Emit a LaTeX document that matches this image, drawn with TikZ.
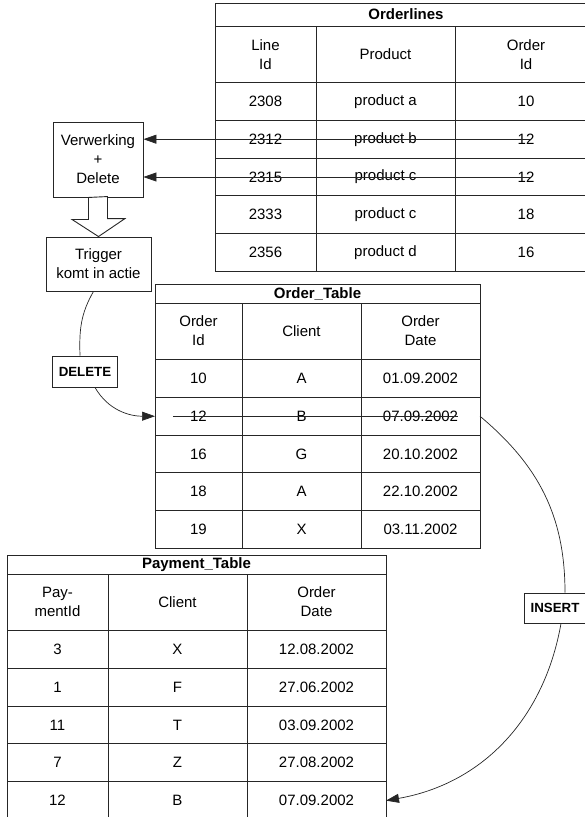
\documentclass[tikz,border=0pt]{standalone}
\usepackage{fontspec}
\setmainfont{Liberation Sans}
\usetikzlibrary{arrows.meta, positioning, calc}

\begin{document}
\begin{tikzpicture}[x=1pt, y=-1pt,
  font=\fontsize{15}{19}\selectfont,
  tabline/.style={line width=0.9pt, draw=black!85},
  cell/.style={inner sep=0pt, align=center},
  tabtitle/.style={inner sep=0pt, font=\fontsize{15}{19}\selectfont\bfseries},
  procbox/.style={draw=black!85, line width=0.9pt, align=center},
  tag/.style={draw=black!85, line width=0.9pt, fill=white, inner xsep=6pt, minimum height=31pt, font=\fontsize{13.3}{16}\selectfont\bfseries},
  connline/.style={line width=0.7pt, draw=black!85},
  flow/.style={connline, -{Triangle[length=13pt,width=9pt]}}
]

\useasboundingbox (0,0) rectangle (584,817);

\def\rowh{37.8}
\def\headh{56.5}

% table grids
\foreach \nm/\xl/\yt/\xa/\xb/\xr/\yh in {ol/215/3/316/455/597/26, ot/155/284/242/361/480/303, pt/7/555/108/247/386/574}{
  \pgfmathsetmacro\yb{\yh+\headh}
  \pgfmathsetmacro\ye{\yb+5*\rowh}
  \draw[tabline] (\xl,\yt) rectangle (\xr,\ye);
  \draw[tabline] (\xl,\yh) -- (\xr,\yh);
  \foreach \k in {0,...,4} \draw[tabline] (\xl,\yb+\k*\rowh) -- (\xr,\yb+\k*\rowh);
  \draw[tabline] (\xa,\yh) -- (\xa,\ye) (\xb,\yh) -- (\xb,\ye);
  \coordinate (\nm-nw) at (\xl,\yt);
  \coordinate (\nm-se) at (\xr,\ye);
}

% Orderlines
\node[tabtitle] (ol-title) at (406,14.5) {Orderlines};
\node[cell] (ol-h1) at (265.5,54.5) {Line\\Id};
\node[cell] (ol-h2) at (385.5,54.5) {Product};
\node[cell] (ol-h3) at (526,54.5) {Order\\Id};
\foreach \va/\vb/\vc [count=\i] in {2308/product a/10, 2312/product b/12, 2315/product c/12, 2333/product c/18, 2356/product d/16}{
  \node[cell] (ol-\i-1) at (265.5,{82.5+(\i-0.5)*\rowh}) {\va};
  \node[cell] (ol-\i-2) at (385.5,{82.5+(\i-0.5)*\rowh}) {\vb};
  \node[cell] (ol-\i-3) at (526,{82.5+(\i-0.5)*\rowh}) {\vc};
}

% Order_Table
\node[tabtitle] (ot-title) at (317.5,293.5) {Order\_Table};
\node[cell] (ot-h1) at (198.5,331) {Order\\Id};
\node[cell] (ot-h2) at (301.5,331) {Client};
\node[cell] (ot-h3) at (420.5,331) {Order\\Date};
\foreach \va/\vb/\vc [count=\i] in {10/A/01.09.2002, 12/B/07.09.2002, 16/G/20.10.2002, 18/A/22.10.2002, 19/X/03.11.2002}{
  \node[cell] (ot-\i-1) at (198.5,{359.5+(\i-0.5)*\rowh}) {\va};
  \node[cell] (ot-\i-2) at (301.5,{359.5+(\i-0.5)*\rowh}) {\vb};
  \node[cell] (ot-\i-3) at (420.5,{359.5+(\i-0.5)*\rowh}) {\vc};
}

% Payment_Table
\node[tabtitle] (pt-title) at (196.5,564.5) {Payment\_Table};
\node[cell] (pt-h1) at (57.5,602) {Pay-\\mentId};
\node[cell] (pt-h2) at (177.5,602) {Client};
\node[cell] (pt-h3) at (316.5,602) {Order\\Date};
\foreach \va/\vb/\vc [count=\i] in {3/X/12.08.2002, 1/F/27.06.2002, 11/T/03.09.2002, 7/Z/27.08.2002, 12/B/07.09.2002}{
  \node[cell] (pt-\i-1) at (57.5,{630.5+(\i-0.5)*\rowh}) {\va};
  \node[cell] (pt-\i-2) at (177.5,{630.5+(\i-0.5)*\rowh}) {\vb};
  \node[cell] (pt-\i-3) at (316.5,{630.5+(\i-0.5)*\rowh}) {\vc};
}

% processing
\node[procbox, minimum width=90pt, minimum height=75pt] (verw) at (98,159.5) {Verwerking\\+\\Delete};
\node[procbox, minimum width=105pt, minimum height=54pt] (trig) at (98.5,264) {Trigger\\komt in actie};

\foreach \i in {2,3} \draw[flow] ([xshift=-5pt]ol-\i-3.east) -- (ol-\i-3 -| verw.east);

% block arrow
\draw[tabline, fill=white] ([xshift=-9.5pt]verw.south) -- ++(0,22) -- ++(-16.5,0) -- (trig.north)
  -- ++(26.5,-18) -- ++(-17.5,0) -- ++(0,-22) -- cycle;

% delete
\node[tag] (del) at (85,371.5) {DELETE};
\draw[connline] ([xshift=-5pt]trig.south) to[out=-120,in=92] ([xshift=-5pt]del.north);
\draw[flow] ([xshift=10pt]del.south) to[out=-60,in=180] (ot-2-1 -| ot-nw);
\draw[connline] ([xshift=-17pt]ot-2-1.west) -- (ot-2-3.east);

% insert
\node[tag, minimum height=30pt] (ins) at (555,608) {INSERT};
\draw[connline] (ot-2-3 -| ot-se) to[out=-40,in=90] ([xshift=10pt]ins.north);
\draw[flow] ([xshift=6pt]ins.south) to[out=-100,in=10] (pt-5-3 -| pt-se);

\end{tikzpicture}
\end{document}
